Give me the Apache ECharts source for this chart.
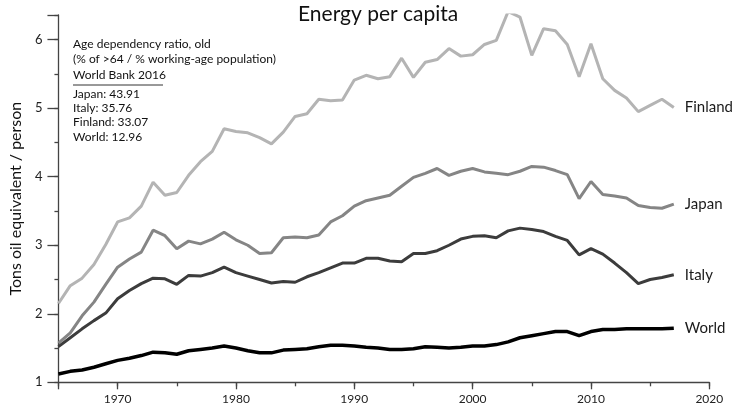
<!DOCTYPE html>
<html><head><meta charset="utf-8">
<script src="https://cdn.jsdelivr.net/npm/echarts@6/dist/echarts.min.js"></script>
<style>html,body{margin:0;padding:0;background:#fff}#c{width:740px;height:412px}</style>
</head><body><div id="c"></div>
<script>
const years = ['1965','1966','1967','1968','1969','1970','1971','1972','1973','1974','1975','1976','1977','1978','1979','1980','1981','1982','1983','1984','1985','1986','1987','1988','1989','1990','1991','1992','1993','1994','1995','1996','1997','1998','1999','2000','2001','2002','2003','2004','2005','2006','2007','2008','2009','2010','2011','2012','2013','2014','2015','2016','2017','2018','2019','2020'];
const finland = [2.15,2.41,2.52,2.72,3.01,3.34,3.40,3.57,3.92,3.73, 3.77,4.02,4.22,4.37,4.70,4.66,4.64,4.57,4.48,4.65, 4.88,4.92,5.13,5.11,5.12,5.41,5.48,5.43,5.46,5.73, 5.45,5.67,5.71,5.87,5.76,5.78,5.93,5.99,6.41,6.33, 5.77,6.16,6.13,5.93,5.46,5.94,5.43,5.26,5.15,4.95, 5.04,5.13,5.01];
const japan = [1.57,1.72,1.97,2.17,2.43,2.68,2.80,2.90,3.22,3.14, 2.95,3.06,3.02,3.09,3.19,3.08,3.00,2.88,2.89,3.11, 3.12,3.11,3.15,3.34,3.43,3.57,3.65,3.69,3.73,3.86, 3.99,4.05,4.12,4.02,4.08,4.12,4.07,4.05,4.03,4.08, 4.15,4.14,4.09,4.03,3.68,3.93,3.74,3.72,3.69,3.58, 3.55,3.54,3.60];
const italy = [1.52,1.65,1.78,1.90,2.01,2.22,2.34,2.44,2.52,2.51, 2.43,2.56,2.55,2.60,2.68,2.60,2.55,2.50,2.45,2.47, 2.46,2.54,2.60,2.67,2.74,2.74,2.81,2.81,2.77,2.76, 2.88,2.88,2.92,3.00,3.09,3.13,3.14,3.11,3.21,3.25, 3.23,3.20,3.13,3.07,2.86,2.95,2.87,2.74,2.60,2.44, 2.50,2.53,2.57];
const world = [1.12,1.16,1.18,1.22,1.27,1.32,1.35,1.39,1.44,1.43, 1.41,1.46,1.48,1.50,1.53,1.50,1.46,1.43,1.43,1.47, 1.48,1.49,1.52,1.54,1.54,1.53,1.51,1.50,1.48,1.48, 1.49,1.52,1.51,1.50,1.51,1.53,1.53,1.55,1.59,1.65, 1.68,1.71,1.74,1.74,1.68,1.74,1.77,1.77,1.78,1.78, 1.78,1.78,1.79];
const noteLines = ['Age dependency ratio, old','(% of >64 / % working-age population)','World Bank 2016'];
const noteValues = ['Japan: 43.91','Italy: 35.76','Finland: 33.07','World: 12.96'];

const FONT = 'Lato';
const chart = echarts.init(document.getElementById('c'));
const mk = (name, data, color, width) => ({
  name, type: 'line', data, symbol: 'none', smooth: false,
  lineStyle: {color, width}, itemStyle: {color},
  emphasis: {disabled: true},
  endLabel: {show: true, formatter: '{a}', distance: 11, fontFamily: FONT, fontSize: 15, color: '#1a1a1a'}
});
const graphics = [];
noteLines.forEach((t, i) => graphics.push({type: 'text', left: 73, top: 38 + i * 15.5, style: {text: t, fontFamily: FONT, fontSize: 12, fill: '#111'}}));
graphics.push({type: 'line', shape: {x1: 73, y1: 85, x2: 163, y2: 85}, style: {stroke: '#333', lineWidth: 1}});
noteValues.forEach((t, i) => graphics.push({type: 'text', left: 73, top: 88 + i * 14.3, style: {text: t, fontFamily: FONT, fontSize: 12, fill: '#111'}}));
graphics.push({type: 'text', left: 298, top: 4, style: {text: 'Energy per capita', fontFamily: FONT, fontSize: 21, fill: '#111'}});

chart.setOption({
  animation: false,
  backgroundColor: '#fff',
  textStyle: {fontFamily: FONT},
  grid: {left: 52.7, right: 30.7, top: 15, bottom: 29.7, containLabel: false},
  xAxis: [{
    type: 'category', data: years, boundaryGap: false,
    axisLine: {lineStyle: {color: '#444', width: 1.3}},
    axisTick: {length: 7, lineStyle: {color: '#444', width: 1.3}, interval: (i, v) => v === '1965' || (+v) % 10 === 0},
    axisLabel: {interval: (i, v) => (+v) % 10 === 0, margin: 11, fontSize: 12, color: '#222', fontFamily: FONT},
    splitLine: {show: false}
  }, {
    type: 'category', data: years, boundaryGap: false, position: 'bottom',
    axisLine: {show: false},
    axisTick: {length: 4, lineStyle: {color: '#444', width: 1.3}, interval: (i, v) => (+v) % 5 === 0},
    axisLabel: {show: false}, splitLine: {show: false}
  }],
  yAxis: [{
    type: 'value', min: 1, max: 6.36, interval: 1,
    name: 'Tons oil equivalent / person', nameLocation: 'middle', nameGap: 27,
    nameTextStyle: {fontSize: 16, color: '#111', fontFamily: FONT},
    axisLine: {show: true, lineStyle: {color: '#444', width: 1.3}},
    axisTick: {show: true, length: 11, lineStyle: {color: '#444', width: 1.3}},
    axisLabel: {margin: 16, fontSize: 13, color: '#222', fontFamily: FONT, formatter: v => Number.isInteger(v) ? String(v) : ''},
    splitLine: {show: false}
  }, {
    type: 'value', min: 1, max: 6.36, interval: 0.5, position: 'left', offset: 0,
    axisLine: {show: false},
    axisTick: {show: true, length: 4, lineStyle: {color: '#444', width: 1.3}},
    axisLabel: {show: false}, splitLine: {show: false}
  }],
  series: [
    mk('Finland', finland, '#b4b4b4', 3),
    mk('Japan', japan, '#858585', 3),
    mk('Italy', italy, '#3c3c3c', 3),
    mk('World', world, '#000000', 3.5)
  ],
  graphic: graphics
});
</script></body></html>
